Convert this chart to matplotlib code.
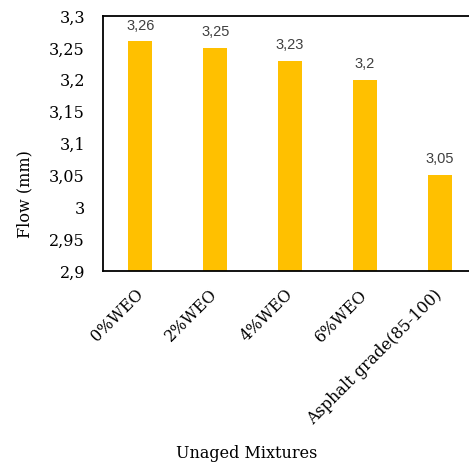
import matplotlib
matplotlib.use("Agg")
import matplotlib.pyplot as plt
from matplotlib.ticker import FuncFormatter
from matplotlib.transforms import ScaledTranslation

# data
categories = ["0%WEO", "2%WEO", "4%WEO", "6%WEO", "Asphalt grade(85-100)"]
flow = [3.26, 3.25, 3.23, 3.20, 3.05]
value_labels = ["3,26", "3,25", "3,23", "3,2", "3,05"]
yticks = [2.9, 2.95, 3.0, 3.05, 3.1, 3.15, 3.2, 3.25, 3.3]

W, H = 469, 466
fig = plt.figure(figsize=(W / 100, H / 100), dpi=100)
# axes frame runs off the right edge of the image in the reference
ax = fig.add_axes([103 / W, 1 - 271 / H, (477 - 103) / W, (271 - 16) / H])

x = list(range(len(categories)))
ax.bar(x, flow, width=0.32, color="#FFC000", zorder=2)

ax.set_xlim(-0.5, len(categories) - 0.5)
ax.set_ylim(2.9, 3.3)
ax.set_yticks(yticks)


def comma(v, pos):
    s = f"{v:.2f}".rstrip("0").rstrip(".")
    return s.replace(".", ",")


ax.yaxis.set_major_formatter(FuncFormatter(comma))
ax.tick_params(axis="y", length=0, pad=13, labelsize=11.5)
ax.tick_params(axis="x", length=0, pad=11)
for lab in ax.get_yticklabels():
    lab.set_fontfamily("DejaVu Serif")

ax.set_xticks(x)
ax.set_xticklabels(categories, rotation=45, ha="right", rotation_mode="anchor",
                   fontsize=11.5, family="DejaVu Serif")
# nudge rotated labels left so they end near the bar centre
shift = ScaledTranslation(-6 / 100, 0, fig.dpi_scale_trans)
for lab in ax.get_xticklabels():
    lab.set_transform(lab.get_transform() + shift)

for xi, v, t in zip(x, flow, value_labels):
    ax.text(xi, v + 0.014, t, ha="center", va="bottom", fontsize=10.5,
            family="Liberation Sans", color="#404040")

for sp in ax.spines.values():
    sp.set_linewidth(1.3)
    sp.set_color("black")

fig.text(25 / W, 1 - 194 / H, "Flow (mm)", rotation=90, ha="center", va="center",
         fontsize=11.5, family="DejaVu Serif")
fig.text(247 / W, 1 - 453 / H, "Unaged Mixtures", ha="center", va="center",
         fontsize=11.5, family="DejaVu Serif")

fig.savefig("out.png", dpi=100)
